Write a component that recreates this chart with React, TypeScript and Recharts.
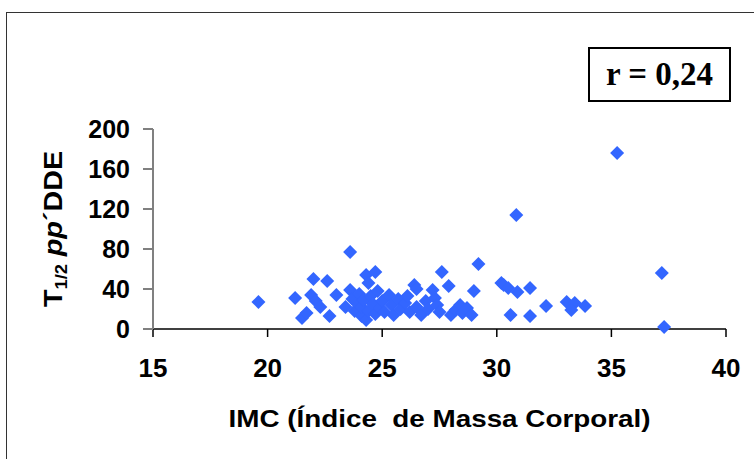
import { ScatterChart, Scatter, XAxis, YAxis } from "recharts";

// IMC (x) and T1/2 pp'DDE (y)
const imc = [
  19.6, 21.2, 21.5, 21.7, 21.9, 22.0, 22.1, 22.3, 22.6, 22.7, 23.0, 23.6, 23.4,
  23.6, 23.7, 23.8, 23.9, 24.0, 24.1, 24.1, 24.2, 24.3, 24.3, 24.4, 24.4, 24.5,
  24.6, 24.7, 24.7, 24.8, 24.9, 25.0, 25.1, 25.3, 25.4, 25.5, 25.7, 25.8, 26.0,
  26.1, 26.2, 26.4, 26.5, 26.5, 26.7, 26.9, 27.0, 27.2, 27.3, 27.4, 27.6, 27.5,
  27.9, 28.0, 28.2, 28.4, 28.5, 28.7, 28.9, 29.0, 29.2, 30.2, 30.3, 30.5, 30.6,
  30.9, 30.85, 31.45, 31.45, 32.15, 33.05, 33.4, 33.25, 33.85, 35.25, 37.2, 37.3,
];
const t12 = [
  27, 31, 11, 16, 34, 50, 28, 22, 48, 13, 34, 77, 22,
  39, 30, 18, 26, 35, 13, 22, 29, 54, 9, 46, 18, 33,
  25, 57, 15, 38, 21, 28, 17, 34, 24, 14, 30, 20, 26,
  33, 17, 44, 40, 22, 14, 28, 20, 39, 31, 24, 57, 17,
  43, 14, 19, 24, 16, 21, 14, 38, 65, 46, 44, 41, 14,
  37, 114, 41, 13, 23, 27, 26, 19, 23, 176, 56, 2,
];

const xTicks = [15, 20, 25, 30, 35, 40];
const yTicks = [0, 40, 80, 120, 160, 200];

const points = imc.map((x, i) => ({ x, y: t12[i] }));

const font = "'Liberation Sans', Arial, sans-serif";

function Diamond(props: any) {
  const { cx, cy } = props;
  const r = 7;
  return (
    <polygon
      points={`${cx},${cy - r} ${cx + r},${cy} ${cx},${cy + r} ${cx - r},${cy}`}
      fill="#3366FF"
    />
  );
}

function XLabel(props: any) {
  const { viewBox } = props;
  const cx = viewBox.x + viewBox.width / 2;
  return (
    <text
      x={cx}
      y={427}
      textAnchor="middle"
      fontFamily={font}
      fontWeight="bold"
      fontSize={24}
      fill="#000"
      textLength={422}
      lengthAdjust="spacingAndGlyphs"
      style={{ whiteSpace: "pre" }}
    >
      IMC (Índice  de Massa Corporal)
    </text>
  );
}

function YLabel() {
  const x = 62;
  const y = 229;
  return (
    <text
      x={x}
      y={y}
      transform={`rotate(-90, ${x}, ${y})`}
      textAnchor="middle"
      fontFamily={font}
      fontWeight="bold"
      fontSize={25}
      fill="#000"
      textLength={156}
      lengthAdjust="spacingAndGlyphs"
    >
      T
      <tspan fontSize={16} dy={5}>
        1/2
      </tspan>
      <tspan dy={-5}> </tspan>
      <tspan fontStyle="italic">pp</tspan>
      ´DDE
    </text>
  );
}

export default function App() {
  return (
    <div
      style={{
        position: "absolute",
        left: 0,
        top: 0,
        width: 754,
        height: 459,
        background: "#fff",
        overflow: "hidden",
      }}
    >
      <div
        style={{
          position: "absolute",
          left: 6,
          top: 12,
          width: 800,
          height: 500,
          border: "1.5px solid #333",
          boxSizing: "border-box",
        }}
      />
      <ScatterChart
        width={754}
        height={459}
        margin={{ top: 129, right: 28, bottom: 0, left: 0 }}
        style={{ position: "absolute", left: 0, top: 0 }}
      >
        <XAxis
          type="number"
          dataKey="x"
          domain={[15, 40]}
          ticks={xTicks}
          interval={0}
          height={130}
          stroke="#000"
          strokeWidth={1.5}
          tickSize={8}
          tickMargin={22}
          tick={{ fontFamily: font, fontWeight: "bold", fontSize: 26, fill: "#000" }}
          label={<XLabel />}
        />
        <YAxis
          type="number"
          dataKey="y"
          domain={[0, 200]}
          ticks={yTicks}
          interval={0}
          width={153}
          stroke="#808080"
          strokeWidth={2}
          tickSize={10}
          tickMargin={13}
          tick={{ fontFamily: font, fontWeight: "bold", fontSize: 25, fill: "#000" }}
          label={<YLabel />}
        />
        <Scatter data={points} shape={<Diamond />} isAnimationActive={false} />
      </ScatterChart>
      <div
        style={{
          position: "absolute",
          left: 588,
          top: 47,
          width: 143,
          height: 55,
          border: "2px solid #000",
          boxSizing: "border-box",
          display: "flex",
          alignItems: "center",
          justifyContent: "center",
          fontFamily: "'Liberation Serif', 'Times New Roman', serif",
          fontWeight: "bold",
          fontSize: 33,
          background: "#fff",
        }}
      >
        r = 0,24
      </div>
    </div>
  );
}
